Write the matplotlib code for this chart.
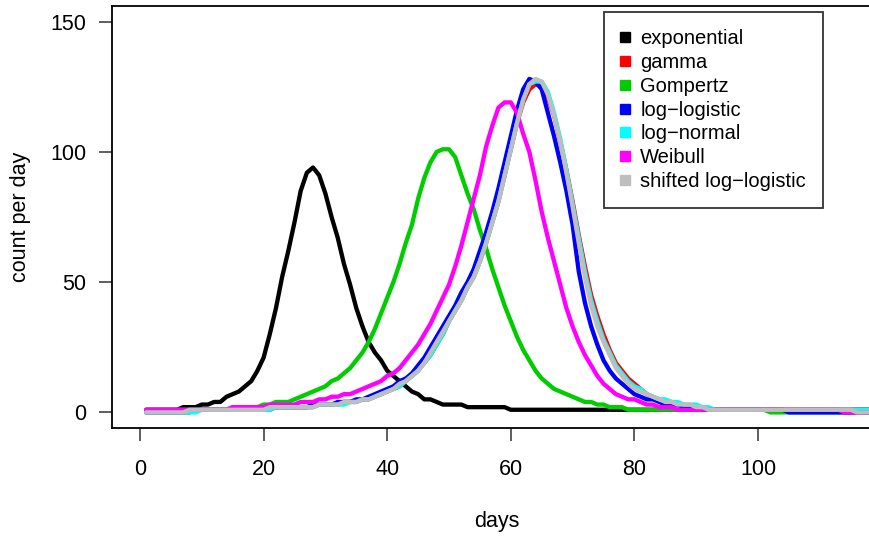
import matplotlib
matplotlib.use("Agg")
import matplotlib.pyplot as plt
from matplotlib.lines import Line2D
import numpy as np

plt.rcParams["font.family"] = ["Liberation Sans", "DejaVu Sans"]

###############################################################################
# daily counts, days 1..120

days = np.arange(1, 121)

exponential = [
    1, 1, 1, 1, 1, 1, 2, 2, 2, 3,
    3, 4, 4, 6, 7, 8, 10, 12, 16, 21,
    30, 40, 52, 62, 73, 85, 92, 94, 91, 84,
    75, 67, 57, 49, 40, 33, 27, 23, 20, 16,
    14, 12, 10, 8, 7, 5, 5, 4, 3, 3,
    3, 3, 2, 2, 2, 2, 2, 2, 2, 1,
    1, 1, 1, 1, 1, 1, 1, 1, 1, 1,
    1, 1, 1, 1, 1, 1, 1, 1, 1, 1,
    1, 1, 1, 1, 1, 1, 1, 1, 1, 1,
    1, 1, 1, 1, 1, 1, 1, 1, 1, 1,
    1, 1, 1, 1, 1, 1, 1, 1, 1, 1,
    1, 1, 1, 1, 1, 1, 1, 1, 1, 1,
]
gamma = [
    0, 0, 0, 0, 0, 0, 0, 0, 1, 1,
    1, 1, 1, 1, 1, 1, 1, 1, 1, 1,
    1, 2, 2, 2, 2, 2, 2, 2, 3, 3,
    3, 3, 4, 4, 4, 5, 5, 6, 7, 8,
    9, 10, 12, 14, 16, 19, 22, 26, 30, 35,
    39, 43, 48, 52, 58, 65, 73, 81, 91, 101,
    111, 119, 124, 126, 125, 121, 114, 104, 93, 81,
    68, 56, 45, 37, 30, 24, 19, 16, 13, 11,
    9, 7, 6, 5, 4, 4, 3, 3, 2, 2,
    1, 1, 1, 1, 1, 1, 1, 1, 1, 1,
    1, 1, 1, 1, 1, 1, 1, 1, 1, 1,
    1, 1, 1, 1, 1, 1, 1, 1, 1, 1,
]
gompertz = [
    1, 1, 1, 1, 1, 1, 1, 1, 1, 1,
    1, 1, 1, 1, 2, 2, 2, 2, 2, 3,
    3, 4, 4, 4, 5, 6, 7, 8, 9, 10,
    12, 13, 15, 17, 20, 23, 27, 32, 38, 44,
    50, 57, 65, 72, 82, 90, 96, 100, 101, 101,
    98, 91, 84, 78, 70, 63, 55, 48, 41, 35,
    29, 24, 20, 16, 13, 11, 9, 8, 7, 6,
    5, 4, 4, 3, 3, 2, 2, 2, 1, 1,
    1, 1, 1, 1, 1, 1, 1, 1, 1, 1,
    1, 1, 1, 1, 1, 1, 1, 1, 1, 1,
    1, 0, 0, 0, 0, 0, 0, 0, 0, 0,
    0, 0, 0, 0, 0, 0, 0, 0, 0, 0,
]
log_logistic = [
    0, 0, 0, 0, 0, 0, 0, 1, 1, 1,
    1, 1, 1, 1, 1, 1, 1, 1, 1, 2,
    2, 2, 2, 2, 2, 2, 2, 3, 3, 3,
    3, 4, 4, 4, 5, 5, 6, 7, 8, 9,
    10, 12, 13, 15, 18, 21, 25, 29, 33, 37,
    41, 46, 50, 55, 62, 69, 77, 86, 96, 106,
    116, 124, 128, 127, 124, 115, 106, 96, 85, 72,
    54, 42, 33, 26, 20, 16, 13, 11, 9, 7,
    6, 5, 5, 4, 3, 3, 3, 2, 2, 2,
    1, 1, 1, 1, 1, 1, 1, 1, 1, 1,
    1, 1, 1, 1, 0, 0, 0, 0, 0, 0,
    0, 0, 0, 0, 0, 0, 0, 0, 0, 0,
]
log_normal = [
    0, 0, 0, 0, 0, 0, 0, 0, 0, 1,
    1, 1, 1, 1, 1, 1, 1, 1, 1, 1,
    1, 2, 2, 2, 2, 2, 2, 2, 3, 3,
    3, 3, 3, 4, 4, 5, 5, 6, 7, 8,
    9, 10, 12, 14, 16, 19, 22, 26, 30, 35,
    39, 43, 48, 52, 58, 65, 73, 81, 91, 101,
    111, 120, 126, 127, 127, 123, 115, 105, 93, 80,
    67, 54, 43, 35, 28, 23, 18, 15, 12, 10,
    9, 7, 6, 5, 5, 4, 4, 3, 3, 3,
    2, 2, 1, 1, 1, 1, 1, 1, 1, 1,
    1, 1, 1, 1, 1, 1, 1, 1, 1, 1,
    1, 1, 1, 1, 1, 1, 1, 1, 1, 1,
]
weibull = [
    1, 1, 1, 1, 1, 1, 1, 1, 1, 1,
    1, 1, 1, 1, 2, 2, 2, 2, 2, 2,
    3, 3, 3, 3, 3, 4, 4, 4, 5, 5,
    6, 6, 7, 7, 8, 9, 10, 11, 12, 14,
    15, 17, 20, 23, 26, 30, 34, 39, 44, 49,
    56, 64, 73, 82, 91, 102, 110, 117, 119, 119,
    115, 107, 100, 89, 77, 67, 58, 49, 40, 33,
    27, 22, 18, 14, 11, 9, 7, 6, 5, 5,
    4, 3, 3, 2, 2, 2, 1, 1, 1, 1,
    1, 1, 1, 1, 1, 1, 1, 1, 1, 1,
    1, 1, 1, 1, 1, 1, 1, 1, 1, 1,
    1, 1, 1, 0, 0, 0, 0, 0, 0, 0,
]
shifted_log_logistic = [
    0, 0, 0, 0, 0, 0, 0, 1, 1, 1,
    1, 1, 1, 1, 1, 1, 1, 1, 1, 1,
    2, 2, 2, 2, 2, 2, 2, 2, 3, 3,
    3, 3, 4, 4, 4, 5, 5, 6, 7, 8,
    9, 11, 12, 14, 16, 19, 23, 27, 31, 35,
    39, 43, 48, 52, 58, 65, 73, 81, 91, 101,
    111, 120, 126, 128, 127, 122, 114, 104, 92, 79,
    65, 52, 41, 33, 27, 22, 17, 14, 11, 9,
    8, 7, 6, 5, 4, 4, 3, 3, 3, 2,
    2, 1, 1, 1, 1, 1, 1, 1, 1, 1,
    1, 1, 1, 1, 1, 1, 1, 1, 1, 1,
    1, 1, 1, 1, 1, 0, 0, 0, 0, 0,
]

series = [
    ("exponential", exponential, "black"),
    ("gamma", gamma, "#FF0000"),
    ("Gompertz", gompertz, "#00CD00"),
    ("log\u2212logistic", log_logistic, "#0000FF"),
    ("log\u2212normal", log_normal, "#00FFFF"),
    ("Weibull", weibull, "#FF00FF"),
    ("shifted log\u2212logistic", shifted_log_logistic, "#BEBEBE"),
]

###############################################################################

W, H = 869, 536
fig = plt.figure(figsize=(W / 100, H / 100), dpi=100)
ax = fig.add_axes([112 / W, (H - 428) / H, (W - 112) / W, (428 - 6) / H])

for name, vals, color in series:
    ax.plot(days, vals, color=color, lw=3.1,
            solid_capstyle="round", solid_joinstyle="round")

ax.set_xlim(-4.53, 117.96)
ax.set_ylim(-6, 156)
ax.set_xticks([0, 20, 40, 60, 80, 100])
ax.set_yticks([0, 50, 100, 150])
ax.tick_params(direction="out", length=9.5, width=1.1, labelsize=15.5,
               color="#333333")
ax.tick_params(axis="x", pad=13)
ax.tick_params(axis="y", pad=9)
for s in ["left", "bottom", "top"]:
    ax.spines[s].set_linewidth(1.3)
ax.spines["right"].set_visible(False)

fig.text(497 / W, 1 - 521 / H, "days", ha="center", va="center", fontsize=15.5)
fig.text(21 / W, 1 - 217 / H, "count per day", ha="center", va="center",
         rotation=90, fontsize=15.5)

handles = [Line2D([], [], marker="s", linestyle="none", color=c, markersize=7.5)
           for _, _, c in series]
leg = ax.legend(handles, [n for n, _, _ in series], loc="upper left",
                bbox_to_anchor=(604 / W, 1 - 12 / H),
                bbox_transform=fig.transFigure, borderaxespad=0,
                fontsize=14.5, frameon=True, fancybox=False,
                handlelength=0.35, handletextpad=0.6, borderpad=0.85,
                labelspacing=0.24)
leg.get_frame().set_edgecolor("black")
leg.get_frame().set_linewidth(1.3)

fig.savefig("out.png", dpi=100)
